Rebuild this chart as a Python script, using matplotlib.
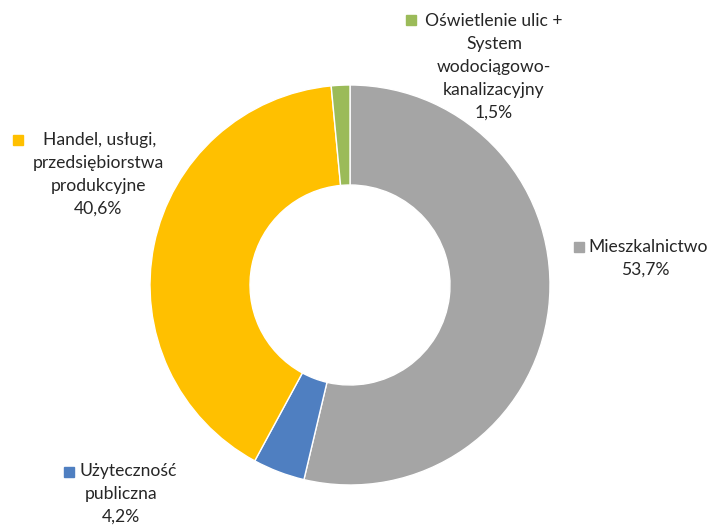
import matplotlib
matplotlib.use("Agg")
import matplotlib.pyplot as plt

# ===========================
# Data
# ===========================
categories = [
    "Mieszkalnictwo",
    "Użyteczność\npubliczna",
    "Handel, usługi,\nprzedsiębiorstwa\nprodukcyjne",
    "Oświetlenie ulic +\nSystem\nwodociągowo-\nkanalizacyjny",
]
shares = [53.7, 4.2, 40.6, 1.5]
pct_labels = ["53,7%", "4,2%", "40,6%", "1,5%"]
colors = ["#A5A5A5", "#4F7FC1", "#FFC000", "#9BBB59"]

# label layout in pixel coords:
# (x centre of block, x centre of first line, y of first line, marker x, marker y)
label_pos = [
    (645, 648, 247, 579, 247),
    (121, 128, 471, 69, 472),
    (98, 100, 140, 18, 140),
    (494, 494, 21, 411, 20),
]

W, H = 708, 527
plt.rcParams["font.family"] = ["Lato", "DejaVu Sans"]

fig = plt.figure(figsize=(W / 100, H / 100), dpi=100)
ax = fig.add_axes([0, 0, 1, 1])

ax.pie(
    shares,
    colors=colors,
    startangle=90,
    counterclock=False,
    center=(350, H - 285),
    radius=200,
    frame=True,
    wedgeprops=dict(width=100, edgecolor="white", linewidth=1),
)

line_h = 23
for cat, pct, col, (xc, x1, y0, xm, ym) in zip(categories, pct_labels, colors, label_pos):
    lines = cat.split("\n") + [pct]
    for i, ln in enumerate(lines):
        x = x1 if i == 0 else xc
        ax.text(x, H - (y0 + i * line_h), ln, ha="center", va="center",
                fontsize=12.6, color="#262626")
    ax.plot([xm], [H - ym], marker="s", markersize=6.5, color=col, linestyle="none")

ax.set_xlim(0, W)
ax.set_ylim(0, H)
ax.axis("off")

plt.savefig("out.png", dpi=100)
plt.close(fig)
